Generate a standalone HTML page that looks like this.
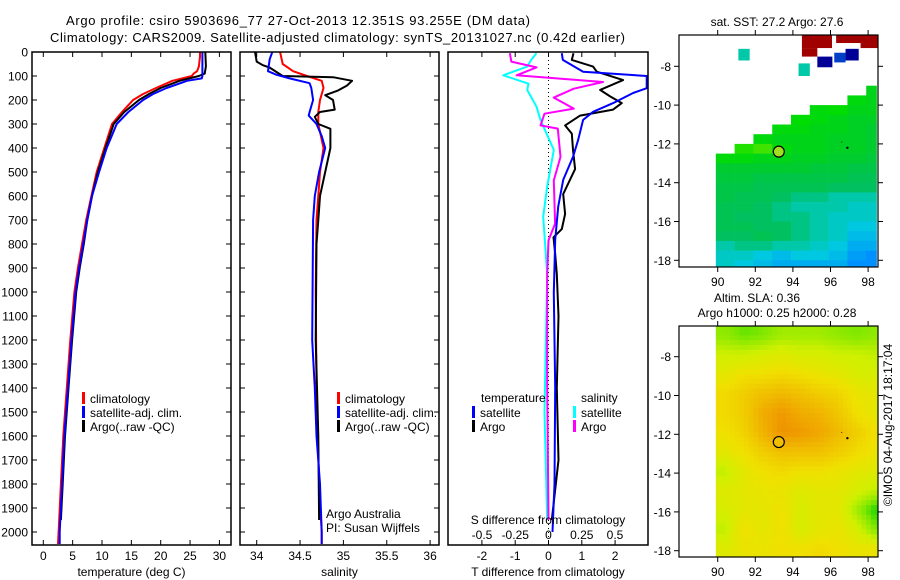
<!DOCTYPE html>
<html><head><meta charset="utf-8"><style>
html,body{margin:0;padding:0;background:#fff;}
svg{display:block;font-family:"Liberation Sans",Arial,sans-serif;}
</style></head><body>
<svg id="fig" width="900" height="580" viewBox="0 0 900 580" xmlns="http://www.w3.org/2000/svg">
<rect width="900" height="580" fill="#fff"/>
<text x="66" y="25" font-size="13" textLength="464">Argo profile: csiro 5903696_77 27-Oct-2013 12.351S 93.255E (DM data)</text>
<text x="50" y="42" font-size="13" textLength="575">Climatology: CARS2009. Satellite-adjusted climatology: synTS_20131027.nc (0.42d earlier)</text>
<g id="g"></g>
</svg>
<script>
// ---------- data ----------
const tempTicks=[0,5,10,15,20,25,30];
const salTicks=[34,34.5,35,35.5,36];
const salTickLabels=["34","34.5","35","35.5","36"];
const depthTicks=[0,100,200,300,400,500,600,700,800,900,1000,1100,1200,1300,1400,1500,1600,1700,1800,1900,2000];
const tdiffTicks=[-2,-1,0,1,2];
const sdiffTicks=[-0.5,-0.25,0,0.25,0.5];
const sdiffLabels=["-0.5","-0.25","0","0.25","0.5"];

const tClimDepth=[0,20,40,60,80,90,100,120,150,175,200,250,300,400,500,600,700,800,900,1000,1200,1400,1600,1800,2000,2050];
const tClim=[26.7,26.7,26.6,26.5,26.2,25.6,25.3,22,19.2,17,15.3,13.4,11.7,10.4,9.1,8.2,7.3,6.6,5.9,5.3,4.6,4.0,3.4,3.0,2.6,2.5];
const tSatDepth=[0,100,110,120,150,175,200,250,300,400,500,600,700,800,900,1000,1200,1400,1600,1800,2000,2050];
const tSat=[27.1,27.1,27.0,24.5,21,18.7,17,14.5,12.5,10.8,9.5,8.3,7.5,6.8,6.1,5.5,4.8,4.2,3.6,3.2,2.8,2.8];
const tArgoDepth=[0,60,90,100,120,150,175,200,250,300,400,500,600,700,800,900,1000,1200,1400,1600,1800,1950];
const tArgo=[27.6,27.7,27.5,26.5,23.2,20,18,16.3,13.8,12.0,10.6,9.3,8.3,7.5,6.9,6.2,5.6,4.9,4.3,3.7,3.3,3.0];

const sClimDepth=[0,50,80,100,120,150,200,250,300,400,500,600,700,1000,1400,1800,2000,2050];
const sClim=[34.27,34.3,34.42,34.58,34.75,34.77,34.73,34.71,34.71,34.77,34.73,34.71,34.69,34.68,34.69,34.72,34.75,34.75];
const sSatDepth=[0,30,80,95,110,130,150,200,250,265,300,350,400,500,600,700,1200,1400,1600,1800,2000,2050];
const sSat=[34.18,34.15,34.13,34.23,34.38,34.61,34.63,34.65,34.61,34.6,34.69,34.75,34.79,34.72,34.67,34.65,34.64,34.67,34.69,34.73,34.75,34.75];
const sArgoDepth=[0,40,55,65,100,105,120,140,160,180,200,240,250,270,300,320,400,500,600,700,800,1200,1600,1950];
const sArgo=[33.98,34.0,34.07,34.15,34.3,34.88,35.1,35.04,34.94,34.79,34.88,34.9,34.73,34.67,34.71,34.85,34.85,34.79,34.73,34.71,34.69,34.68,34.71,34.72];

const dSatTDepth=[5,33,82,100,151,171,213,249,283,367,436,533,644,783,1004,1400,1800,2000];
const dSatT=[0.4,0.43,1.04,2.95,2.95,2.54,1.94,1.34,1.04,0.89,0.74,0.44,0.29,0.2,0.16,0.2,0.18,0.12];
const dArgoTDepth=[5,33,61,82,117,158,185,213,240,265,306,340,412,488,592,675,738,772,842,925,1100,1400,1700,1950];
const dArgoT=[0.75,0.7,1.34,1.45,2.24,1.55,1.85,2.2,1.94,0.95,0.5,0.7,0.74,0.8,0.44,0.5,0.4,0.15,0.2,0.25,0.3,0.25,0.3,0.1];
const dArgoSDepth=[5,40,64,97,125,153,190,236,257,306,319,437,535,715,785,925,1400,1950];
const dArgoS=[-0.29,-0.28,-0.09,-0.24,0.41,0.19,0.04,0.19,-0.03,-0.06,0.07,0.09,0.04,0.05,0,-0.01,-0.01,0];
const dSatSDepth=[5,33,61,97,132,158,228,283,408,561,686,925,1500,1950];
const dSatS=[-0.09,-0.13,-0.16,-0.34,-0.15,-0.16,-0.09,-0.06,0.04,-0.01,-0.04,-0.01,-0.03,-0.01];

// SST map: rows 0.5deg from lat -9 (top) ; cols 1deg from lon 89.9
const sstRows=[
[null,null,null,null,null,null,null,null,27.4],
[null,null,null,null,null,null,null,27.5,27.4],
[null,null,null,null,null,27.5,27.6,27.4,27.4],
[null,null,null,null,27.6,27.5,27.4,27.3,27.3],
[null,null,null,27.5,27.5,27.4,27.4,27.3,27.2],
[null,null,27.5,27.4,27.4,27.4,27.3,27.3,27.2],
[null,27.7,27.8,27.5,27.4,27.4,27.3,27.3,27.2],
[27.5,27.5,27.4,27.4,27.3,27.3,27.2,27.2,27.1],
[27.2,27.2,27.2,27.2,27.2,27.1,27.1,27.0,27.0],
[27.1,27.1,27.0,27.0,27.0,27.0,27.0,26.9,26.9],
[27.0,27.0,26.9,26.9,26.9,26.9,26.8,26.8,26.8],
[27.0,26.9,26.9,26.8,26.7,26.7,26.6,26.6,26.6],
[26.9,26.9,26.8,26.7,26.6,26.6,26.6,26.5,26.5],
[26.9,26.8,26.8,26.7,26.7,26.6,26.5,26.5,26.5],
[26.9,26.9,26.8,26.8,26.7,26.6,26.5,26.4,26.4],
[26.8,26.8,26.9,26.8,26.7,26.6,26.5,26.3,26.3],
[26.6,26.7,26.7,26.6,26.6,26.5,26.4,26.2,26.2],
[26.5,26.5,26.4,26.3,26.4,26.4,26.3,26.1,26.0],
[26.5,26.4,26.3,26.2,26.2,26.2,26.2,26.0,26.0]];
// isolated SST patches: [lonW, latN, lonE, latS, value]
const sstPatches=[[94.48,-6.39,96.08,-7.06,30],[94.48,-7.06,95.3,-7.5,30],[96.3,-6.39,98.5,-6.8,30],[97.6,-6.8,98.5,-7.06,30],
[95.3,-7.5,96.1,-8.05,24],[96.8,-7.1,97.5,-7.7,24],[96.2,-7.3,96.8,-7.8,25],[91.1,-7.1,91.7,-7.7,26.6],[94.3,-7.85,94.9,-8.5,26.6]];
// SLA map: rows 1deg centred from lat -6.9 ; cols 1deg centred from lon 90.4
const slaRows=[
[0.21,0.19,0.2,0.22,0.22,0.22,0.21,0.2,0.21],
[0.25,0.25,0.26,0.27,0.26,0.26,0.25,0.25,0.24],
[0.28,0.3,0.3,0.31,0.3,0.29,0.28,0.26,0.26],
[0.31,0.33,0.35,0.36,0.35,0.33,0.32,0.29,0.28],
[0.31,0.33,0.38,0.41,0.38,0.37,0.34,0.3,0.28],
[0.3,0.32,0.37,0.42,0.41,0.39,0.36,0.33,0.3],
[0.28,0.3,0.33,0.35,0.35,0.35,0.33,0.31,0.29],
[0.24,0.28,0.3,0.31,0.3,0.3,0.29,0.28,0.27],
[0.27,0.28,0.29,0.29,0.27,0.28,0.28,0.26,0.24],
[0.26,0.28,0.28,0.3,0.26,0.28,0.28,0.22,0.16],
[0.24,0.3,0.28,0.3,0.26,0.28,0.29,0.26,0.2],
[0.27,0.29,0.29,0.3,0.3,0.31,0.3,0.29,0.29]];
const lonTicks=[90,92,94,96,98];
const latTicks=[-8,-10,-12,-14,-16,-18];
const argoPos=[93.25,-12.4];

// ---------- drawing ----------
const NS="http://www.w3.org/2000/svg";
const G=document.getElementById('g');
function el(tag,attrs,parent){const e=document.createElementNS(NS,tag);for(const k in attrs)e.setAttribute(k,attrs[k]);(parent||G).appendChild(e);return e;}
function txt(x,y,s,size,anchor,parent){const t=el('text',{x:x,y:y,'font-size':size||12,'text-anchor':anchor||'start'},parent);t.textContent=s;return t;}

const top0=52,bot0=545;
const yD=d=>top0+d*0.24;
const xT=t=>43.3+t*5.87;
const xS=s=>256.7+(s-34)*86.7;
const xdT=t=>548.5+t*33.3;
const xdS=s=>548.5+s*133;

function panel(x0,x1,name){
  const g=el('g',{});
  
  
  const cp=el('clipPath',{id:'clip-'+name},g);
  el('rect',{x:x0,y:top0,width:x1-x0,height:bot0-top0},cp);
  const inner=el('g',{'clip-path':'url(#clip-'+name+')'},g);
  return {g,inner,x0,x1};
}
function frame(p){el('rect',{x:p.x0,y:top0,width:p.x1-p.x0,height:bot0-top0,fill:'none',stroke:'#000','stroke-width':1.5},p.g);}
function line(p,depths,vals,fx,color,name,w){
  let d='';
  for(let i=0;i<vals.length;i++){d+=(i?'L':'M')+fx(vals[i]).toFixed(1)+','+yD(depths[i]).toFixed(1);}
  const e=el('path',{d:d,fill:'none',stroke:color,'stroke-width':w||2,'stroke-linejoin':'round'},p.inner);
  
  
}
function depthTicksDraw(p,labels){
  depthTicks.forEach(d=>{
    const y=yD(d);
    el('line',{x1:p.x0,y1:y,x2:p.x0+5,y2:y,stroke:'#000'},p.g);
    el('line',{x1:p.x1-5,y1:y,x2:p.x1,y2:y,stroke:'#000'},p.g);
    if(labels){const t=txt(28,y+4.5,String(d),12,'end',p.g);}
  });
}
function xTicks(p,ticks,labels,fx,title){
  ticks.forEach((v,i)=>{
    const x=fx(v);
    el('line',{x1:x,y1:bot0,x2:x,y2:bot0-5,stroke:'#000'},p.g);
    el('line',{x1:x,y1:top0,x2:x,y2:top0+5,stroke:'#000'},p.g);
    const t=txt(x,560,labels[i],12,'middle',p.g);
    
    
  });
  const tt=txt((p.x0+p.x1)/2,576,title,12,'middle',p.g);
  
  
}
function legendEntry(p,x,y,color,label){
  const g=el('g',{},p.g);
  
  
  el('rect',{x:x,y:y-10,width:3,height:12,fill:color},g);
  txt(x+8,y+1,label,12,'start',g);
}

// Panel 1 temperature
const p1=panel(32,231,'temperature-panel');
line(p1,tClimDepth,tClim,xT,'#f00','temp-climatology-line');
line(p1,tArgoDepth,tArgo,xT,'#000','temp-argo-line');
line(p1,tSatDepth,tSat,xT,'#00f','temp-satellite-line');
frame(p1);depthTicksDraw(p1,true);
xTicks(p1,tempTicks,tempTicks.map(String),xT,'temperature (deg C)');
legendEntry(p1,82,402,'#f00','climatology');
legendEntry(p1,82,416,'#00f','satellite-adj. clim.');
legendEntry(p1,82,430,'#000','Argo(..raw -QC)');

// Panel 2 salinity
const p2=panel(240,439,'salinity-panel');
line(p2,sClimDepth,sClim,xS,'#f00','sal-climatology-line');
line(p2,sArgoDepth,sArgo,xS,'#000','sal-argo-line');
line(p2,sSatDepth,sSat,xS,'#00f','sal-satellite-line');
frame(p2);depthTicksDraw(p2,false);
xTicks(p2,salTicks,salTickLabels,xS,'salinity');
legendEntry(p2,337,402,'#f00','climatology');
legendEntry(p2,337,416,'#00f','satellite-adj. clim.');
legendEntry(p2,337,430,'#000','Argo(..raw -QC)');
txt(326,518,'Argo Australia',12,'start',p2.g);
txt(326,532,'PI: Susan Wijffels',12,'start',p2.g);

// Panel 3 differences
const p3=panel(448,648,'difference-panel');
el('line',{x1:xdT(0),y1:top0,x2:xdT(0),y2:bot0,stroke:'#000','stroke-dasharray':'1,3'},p3.inner);
line(p3,dSatSDepth,dSatS,xdS,'#00ffff','sdiff-satellite-line');
line(p3,dArgoSDepth,dArgoS,xdS,'#ff00ff','sdiff-argo-line');
line(p3,dArgoTDepth,dArgoT,xdT,'#000','tdiff-argo-line');
line(p3,dSatTDepth,dSatT,xdT,'#00f','tdiff-satellite-line');
frame(p3);
tdiffTicks.forEach(v=>{const x=xdT(v);el('line',{x1:x,y1:bot0,x2:x,y2:bot0-5,stroke:'#000'},p3.g);el('line',{x1:x,y1:top0,x2:x,y2:top0+5,stroke:'#000'},p3.g);
  const t=txt(x,560,String(v),12,'middle',p3.g);});
txt(548,576,'T difference from climatology',12,'middle',p3.g);
sdiffTicks.forEach((v,i)=>{const t=txt(xdS(v),539,sdiffLabels[i],12,'middle',p3.g);});
txt(548,524,'S difference from climatology',12,'middle',p3.g);
txt(481,402,'temperature',12,'start',p3.g);
txt(581,402,'salinity',12,'start',p3.g);
legendEntry(p3,472,416,'#00f','satellite');
legendEntry(p3,472,430,'#000','Argo');
legendEntry(p3,573,416,'#00ffff','satellite');
legendEntry(p3,573,430,'#ff00ff','Argo');

// ---------- maps ----------
function ramp(stops,v){
  if(v<=stops[0][0])return 'rgb('+stops[0][1].join(',')+')';
  for(let i=1;i<stops.length;i++){if(v<=stops[i][0]){const a=stops[i-1],b=stops[i];const f=(v-a[0])/(b[0]-a[0]);
    const ca=a[1],cb=b[1];return 'rgb('+[0,1,2].map(k=>Math.round(ca[k]+(cb[k]-ca[k])*f)).join(',')+')';}}
  return 'rgb('+stops[stops.length-1][1].join(',')+')';
}
const sstStops=[[24,[0,0,150]],[25,[0,64,200]],[26,[0,144,255]],[26.4,[0,200,224]],[26.6,[0,200,168]],[26.8,[0,192,96]],[27.2,[0,204,48]],[27.6,[0,221,0]],[28,[128,232,0]],[29,[255,160,0]],[30,[160,0,0]]];
const slaStops=[[0.15,[0,208,0]],[0.2,[128,232,0]],[0.25,[208,240,0]],[0.3,[240,224,0]],[0.35,[240,192,0]],[0.4,[240,160,0]],[0.45,[232,128,0]]];

function mapAxes(x0,y0,x1,y1,lat8y,latScale,lonX,lonScale,name){
  const g=el('g',{});
  
  
  const cp=el('clipPath',{id:'clip-'+name},g);
  el('rect',{x:x0,y:y0,width:x1-x0,height:y1-y0},cp);
  const inner=el('g',{'clip-path':'url(#clip-'+name+')'},g);
  const fx=lon=>lonX+(lon-90)*lonScale;
  const fy=lat=>lat8y+(-8-lat)*latScale;
  return {g,inner,fx,fy,x0,y0,x1,y1};
}
function mapFrame(m){
  el('rect',{x:m.x0,y:m.y0,width:m.x1-m.x0,height:m.y1-m.y0,fill:'none',stroke:'#000','stroke-width':1.2},m.g);
  lonTicks.forEach(l=>{const x=m.fx(l);el('line',{x1:x,y1:m.y1,x2:x,y2:m.y1+5,stroke:'#000'},m.g);el('line',{x1:x,y1:m.y0,x2:x,y2:m.y0-5,stroke:'#000'},m.g);
    const t=txt(x,m.y1+19,String(l),12,'middle',m.g);});
  latTicks.forEach(l=>{const y=m.fy(l);el('line',{x1:m.x0,y1:y,x2:m.x0-5,y2:y,stroke:'#000'},m.g);el('line',{x1:m.x1,y1:y,x2:m.x1+5,y2:y,stroke:'#000'},m.g);
    const t=txt(m.x0-8,y+4.5,String(l),12,'end',m.g);});
}
function marker(m,fill){
  const c=el('circle',{cx:m.fx(argoPos[0]),cy:m.fy(argoPos[1]),r:5.5,fill:fill,stroke:'#000','stroke-width':1.2},m.g);
  
  
  el('circle',{cx:m.fx(96.9),cy:m.fy(-12.2),r:1.2,fill:'#000'},m.g);
  el('circle',{cx:m.fx(96.6),cy:m.fy(-11.9),r:0.5,fill:'#000'},m.g);
}

// SST map
const m1=mapAxes(679,35,878,267,66.3,19.4,717.7,18.8,'sst-map');
sstRows.forEach((row,r)=>row.forEach((v,c)=>{ if(v===null)return;
  const lonW=89.9+c, lonE=Math.min(98.45,90.9+c), latN=-9-0.5*r, latS=latN-0.5;
  const e=el('rect',{x:m1.fx(lonW),y:m1.fy(latN),width:m1.fx(lonE)-m1.fx(lonW)+0.3,height:m1.fy(latS)-m1.fy(latN)+0.3,fill:ramp(sstStops,v)},m1.inner);
  
  
}));
sstPatches.forEach(p=>{
  const e=el('rect',{x:m1.fx(p[0]),y:m1.fy(p[1]),width:m1.fx(p[2])-m1.fx(p[0]),height:m1.fy(p[3])-m1.fy(p[1]),fill:ramp(sstStops,p[4])},m1.inner);
  
  
});
mapFrame(m1);marker(m1,'#a0e020');
txt(777,26,'sat. SST: 27.2 Argo: 27.6',12,'middle',G);

// SLA map (bilinear smoothing of the 1deg grid into 0.25deg cells)
const m2=mapAxes(679,326,878,557,356.7,19.4,717.7,18.8,'sla-map');
function slaAt(lon,lat){
  const nr=slaRows.length,nc=slaRows[0].length;
  let fr=(-6.9-lat), fc=(lon-90.4);
  fr=Math.max(0,Math.min(nr-1,fr)); fc=Math.max(0,Math.min(nc-1,fc));
  const r0=Math.min(nr-2,Math.floor(fr)), c0=Math.min(nc-2,Math.floor(fc));
  const a=fr-r0,b=fc-c0;
  return slaRows[r0][c0]*(1-a)*(1-b)+slaRows[r0][c0+1]*(1-a)*b+slaRows[r0+1][c0]*a*(1-b)+slaRows[r0+1][c0+1]*a*b;
}
for(let lat=-6.4;lat>-18.5;lat-=0.25){
  for(let lon=89.9;lon<98.45;lon+=0.25){
    const v=slaAt(lon+0.125,lat-0.125);
    const e=el('rect',{x:m2.fx(lon),y:m2.fy(lat),width:0.25*18.8+0.4,height:0.25*19.4+0.4,fill:ramp(slaStops,v)},m2.inner);
    
    
  }
}
mapFrame(m2);marker(m2,'#f0c000');
txt(757,302,'Altim. SLA: 0.36',12,'middle',G);
txt(777,317,'Argo h1000: 0.25 h2000: 0.28',12,'middle',G);
const side=txt(0,0,'\u00A9IMOS 04-Aug-2017 18:17:04',12,'middle',G);
side.setAttribute('transform','translate(892,425) rotate(-90)');


</script>
</body></html>
